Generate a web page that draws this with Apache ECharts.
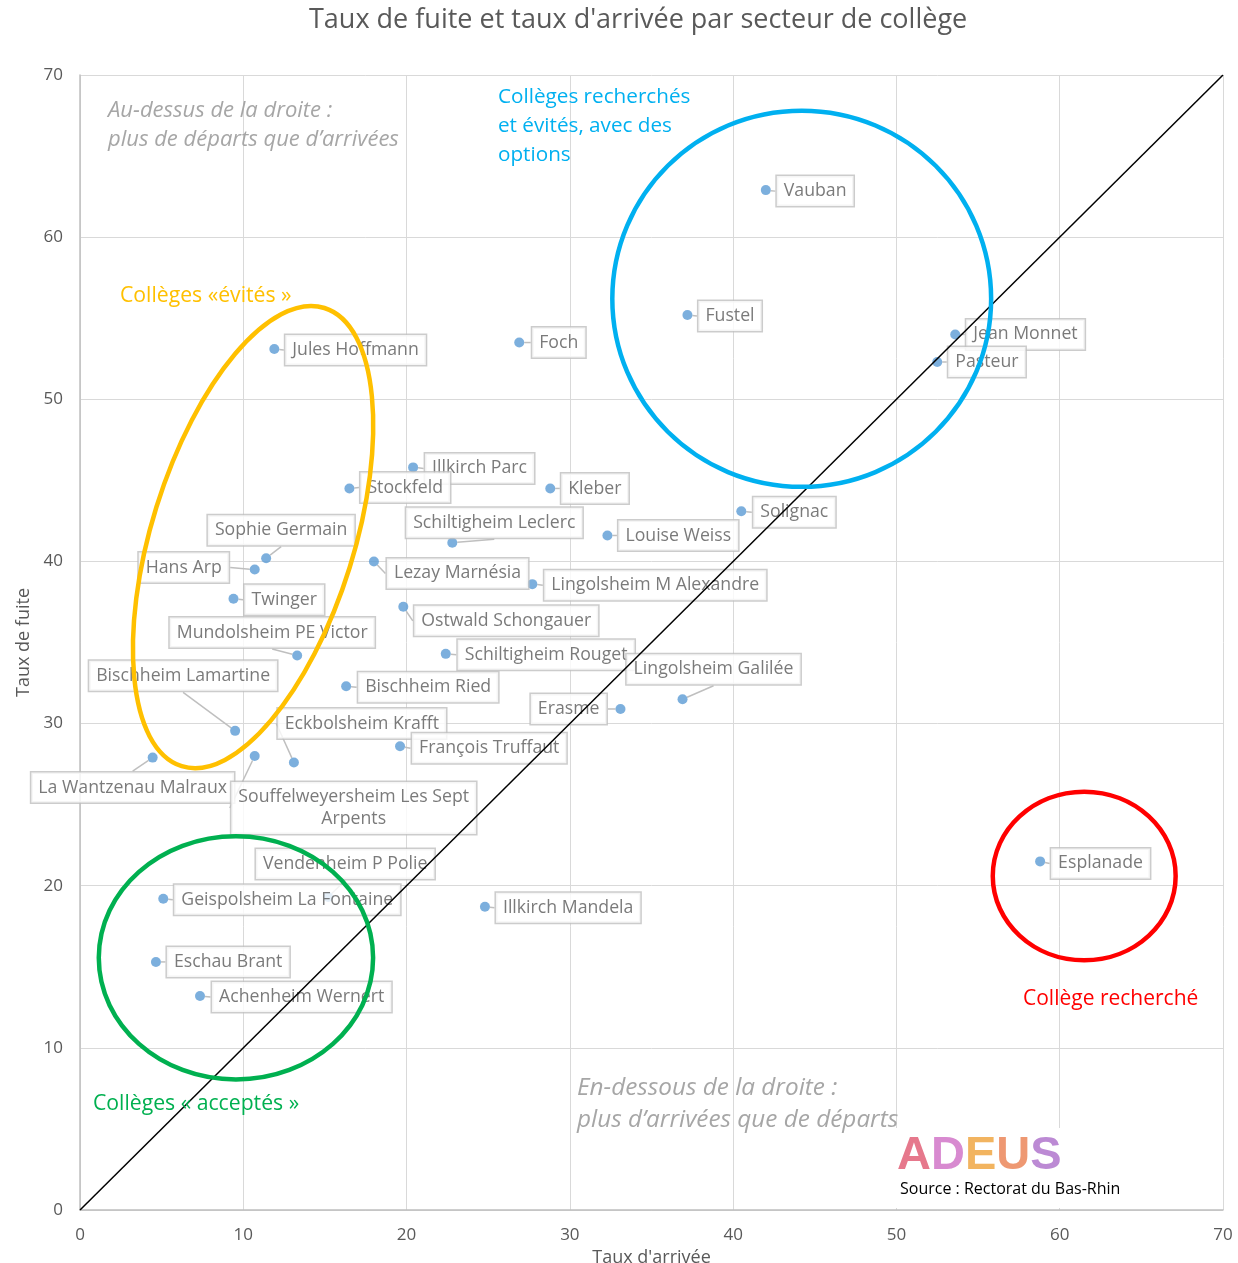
<!DOCTYPE html>
<html>
<head>
<meta charset="utf-8">
<script src="https://cdn.jsdelivr.net/npm/echarts@6.0.0/dist/echarts.min.js"></script>
<style>
html, body { margin: 0; padding: 0; background: #fff; }
#chart { width: 1238px; height: 1263px; }
</style>
</head>
<body>
<div id="chart"></div>
<script>
// taux de fuite / taux d'arrivée par secteur de collège
const FONT = '"Open Sans", sans-serif';

const schools = [
    'Vauban', 'Fustel', 'Jean Monnet', 'Pasteur', 'Jules Hoffmann', 'Foch',
    'Illkirch Parc', 'Stockfeld', 'Kleber', 'Solignac', 'Schiltigheim Leclerc',
    'Louise Weiss', 'Sophie Germain', 'Hans Arp', 'Lezay Marnésia',
    'Lingolsheim M Alexandre', 'Twinger', 'Ostwald Schongauer',
    'Mundolsheim PE Victor', 'Schiltigheim Rouget', 'Bischheim Ried',
    'Lingolsheim Galilée', 'Erasme', 'Bischheim Lamartine', 'Eckbolsheim Krafft',
    'François Truffaut', 'La Wantzenau Malraux', 'Souffelweyersheim Les Sept\nArpents',
    'Vendenheim P Polie', 'Geispolsheim La Fontaine', 'Illkirch Mandela',
    'Eschau Brant', 'Achenheim Wernert', 'Esplanade'
];
// taux d'arrivée (x)
const tauxArrivee = [
    42.0, 37.2, 53.6, 52.5, 11.9, 26.9,
    20.4, 16.5, 28.8, 40.5, 22.8,
    32.3, 11.4, 10.7, 18.0,
    27.7, 9.4, 19.8,
    13.3, 22.4, 16.3,
    36.9, 33.1, 9.5, 13.1,
    19.6, 4.45, 10.7,
    15.2, 5.1, 24.8,
    4.65, 7.35, 58.8
];
// taux de fuite (y)
const tauxFuite = [
    62.9, 55.2, 54.0, 52.3, 53.1, 53.5,
    45.8, 44.5, 44.5, 43.1, 41.15,
    41.6, 40.2, 39.5, 40.0,
    38.6, 37.7, 37.2,
    34.2, 34.3, 32.3,
    31.5, 30.9, 29.55, 27.6,
    28.6, 27.9, 28.0,
    19.3, 19.2, 18.7,
    15.3, 13.2, 21.5
];
const axisTicks = [0, 10, 20, 30, 40, 50, 60, 70];
const diagonal = [[0, 0], [70, 70]];

// placement des étiquettes : [ancrage, dx, dy] en px depuis le point
const labelPlacement = [
    ['left', 11, 1], ['left', 11, 1], ['left', 11, 0], ['left', 11, 0], ['left', 11, 1], ['left', 13, 0],
    ['left', 12, 1], ['left', 11, -1], ['left', 11, 0], ['left', 12, 1], ['center', 42, -20],
    ['left', 11, 0], ['center', 15, -28], ['right', -26, -2], ['left', 13, 12],
    ['left', 12, 1], ['left', 11, 1], ['left', 11, 14],
    ['center', -25, -23], ['left', 12, 1], ['left', 12, 1],
    ['center', 31, -30], ['right', -14, 0], ['center', -52, -55], ['center', 68, -39],
    ['left', 12, 2], ['center', -20, 30], ['center', 99, 52],
    ['center', 17, -33], ['left', 11, 1], ['left', 11, 1],
    ['left', 11, 0], ['left', 12, 1], ['left', 11, 2]
];

// cercles d'annotation (unités des axes)
const ellipses = [
    { cx: 44.2, cy: 56.2, rx: 11.6, ry: 11.6, tilt: 0, color: '#00b0f0' },
    { cx: 10.6, cy: 41.5, rx: 6.2, ry: 14.8, tilt: -17.3, color: '#ffc000' },
    { cx: 9.55, cy: 15.55, rx: 8.4, ry: 7.5, tilt: 0, color: '#00b050' },
    { cx: 61.5, cy: 20.6, rx: 5.6, ry: 5.2, tilt: 0, color: '#ff0000' }
];

const notes = [
    { text: 'Au-dessus de la droite :\nplus de départs que d\u2019arrivées', x: 108, y: 96.5, color: '#a6a6a6', size: 22, italic: true, lh: 29 },
    { text: 'Collèges recherchés\net évités, avec des\noptions', x: 498, y: 82.5, color: '#00b0f0', size: 20.7, lh: 29 },
    { text: 'Collèges «évités »', x: 120, y: 281.5, color: '#ffc000', size: 21.2, lh: 29 },
    { text: 'Collèges « acceptés »', x: 93, y: 1089.5, color: '#00b050', size: 21.2, lh: 29 },
    { text: 'Collège recherché', x: 1023, y: 984.5, color: '#ff0000', size: 21, lh: 29 },
    { text: 'En-dessous de la droite :\nplus d\u2019arrivées que de départs', x: 577, y: 1072, color: '#a6a6a6', size: 24.3, italic: true, lh: 32 }
];

const chart = echarts.init(document.getElementById('chart'));
const points = schools.map(function (n, i) { return [tauxArrivee[i], tauxFuite[i], n]; });

const option = {
    animation: false,
    backgroundColor: '#fff',
    title: {
        text: 'Taux de fuite et taux d\'arrivée par secteur de collège',
        left: 304,
        top: 2,
        textStyle: { color: '#595959', fontSize: 27, fontWeight: 'normal', fontFamily: FONT }
    },
    grid: { left: 80, right: 15, top: 75, bottom: 53, containLabel: false, outerBoundsMode: 'none' },
    xAxis: {
        type: 'value', min: axisTicks[0], max: axisTicks[axisTicks.length - 1], interval: 10,
        name: 'Taux d\'arrivée', nameLocation: 'middle', nameGap: 34,
        nameTextStyle: { color: '#595959', fontSize: 18, fontFamily: FONT },
        axisLine: { show: true, lineStyle: { color: '#bfbfbf', width: 1.5 } },
        axisTick: { show: false },
        axisLabel: { color: '#595959', fontSize: 17, fontFamily: FONT, margin: 17 },
        splitLine: { lineStyle: { color: '#d9d9d9', width: 1 } }
    },
    yAxis: {
        type: 'value', min: axisTicks[0], max: axisTicks[axisTicks.length - 1], interval: 10,
        name: 'Taux de fuite', nameLocation: 'middle', nameGap: 46,
        nameTextStyle: { color: '#595959', fontSize: 18, fontFamily: FONT },
        axisLine: { show: true, lineStyle: { color: '#bfbfbf', width: 1.5 } },
        axisTick: { show: false },
        axisLabel: { color: '#595959', fontSize: 17, fontFamily: FONT, margin: 17 },
        splitLine: { lineStyle: { color: '#d9d9d9', width: 1 } }
    },
    series: [
        {
            type: 'scatter',
            data: points,
            symbolSize: 10,
            z: 2,
            itemStyle: { color: '#5b9bd5' },
            label: {
                show: true,
                position: 'inside',
                formatter: function (p) { return p.data[2]; },
                color: '#595959',
                fontSize: 17.7,
                fontFamily: FONT,
                lineHeight: 22,
                backgroundColor: '#fff',
                borderColor: '#bfbfbf',
                borderWidth: 1.5,
                padding: [4, 7, 4, 7]
            },
            labelLine: { show: true, lineStyle: { color: '#bfbfbf', width: 1.5 } },
            labelLayout: function (params) {
                const pl = labelPlacement[params.dataIndex];
                const r = params.rect;
                return {
                    x: r.x + r.width / 2 + pl[1],
                    y: r.y + r.height / 2 + pl[2],
                    align: pl[0],
                    verticalAlign: 'middle'
                };
            }
        },
        {
            type: 'line',
            data: diagonal,
            symbol: 'none',
            silent: true,
            z: 5,
            lineStyle: { color: '#000', width: 1.5 }
        }
    ]
};
chart.setOption(option);

// ellipses, notes et logo
function drawOverlays() {
    const p0 = chart.convertToPixel({ gridIndex: 0 }, [0, 0]);
    const p1 = chart.convertToPixel({ gridIndex: 0 }, [1, 1]);
    const kx = p1[0] - p0[0];
    const ky = p0[1] - p1[1];
    const els = [];
    ellipses.forEach(function (e) {
        const c = chart.convertToPixel({ gridIndex: 0 }, [e.cx, e.cy]);
        els.push({
            type: 'ellipse', x: c[0], y: c[1], rotation: e.tilt * Math.PI / 180,
            shape: { cx: 0, cy: 0, rx: e.rx * kx, ry: e.ry * ky },
            style: { fill: null, stroke: e.color, lineWidth: 4.5 },
            z: 100, silent: true
        });
    });
    notes.forEach(function (n) {
        els.push({
            type: 'text', x: n.x, y: n.y, z: 101, silent: true,
            style: {
                text: n.text, fill: n.color, fontSize: n.size, fontFamily: FONT,
                fontStyle: n.italic ? 'italic' : 'normal', lineHeight: n.lh,
                verticalAlign: 'top'
            }
        });
    });
    // logo ADEUS
    const logoFont = { fontSize: 47, fontWeight: 'bold', fontFamily: '"Liberation Sans", sans-serif' };
    els.push({ type: 'rect', shape: { x: 896, y: 1128, width: 166, height: 80 }, style: { fill: '#fff' }, z: 90, silent: true });
    els.push({
        type: 'text', x: 897, y: 1133, z: 102, silent: true,
        style: {
            text: '{a|A}{d|D}{e|E}{u|U}{s|S}',
            verticalAlign: 'top',
            rich: {
                a: Object.assign({ fill: '#e6788c' }, logoFont),
                d: Object.assign({ fill: '#d88ad0' }, logoFont),
                e: Object.assign({ fill: '#f2b460' }, logoFont),
                u: Object.assign({ fill: '#ee9872' }, logoFont),
                s: Object.assign({ fill: '#bc8ad4' }, logoFont)
            }
        }
    });
    els.push({
        type: 'text', x: 900, y: 1181, z: 102, silent: true,
        style: { text: 'Source : Rectorat du Bas-Rhin', fill: '#000', fontSize: 16, fontFamily: FONT, verticalAlign: 'top' }
    });
    chart.setOption({ graphic: els });
}
drawOverlays();
</script>
</body>
</html>
